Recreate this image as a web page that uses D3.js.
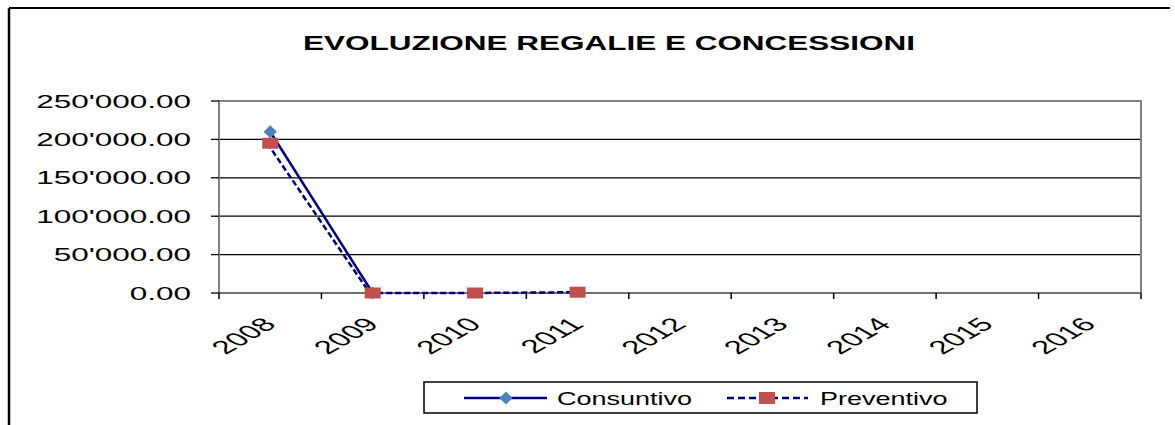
<!DOCTYPE html>
<html>
<head>
<meta charset="utf-8">
<script src="https://cdn.jsdelivr.net/npm/d3@7"></script>
<style>
  body { margin: 0; background: #fff; }
  text { font-family: Arial, "Liberation Sans", sans-serif; fill: #000; }
</style>
</head>
<body>
<div id="chart"></div>
<script>

// chart data
const years = ['2008', '2009', '2010', '2011', '2012', '2013', '2014', '2015', '2016'];
const consuntivo = [210000, 0];
const preventivo = [195000, 0, 0, 1000];
const yTicks = [0, 50000, 100000, 150000, 200000, 250000];
const title = 'EVOLUZIONE REGALIE E CONCESSIONI';

const W = 1175, H = 425;
const plot = {left: 219, right: 1141, top: 101, bottom: 293};

const svg = d3.select('#chart')
    .append('svg')
    .attr('width', W)
    .attr('height', H);

// outer frame (only top and left edge are visible)
svg.append('line')
    .attr('x1', 9).attr('y1', 8).attr('x2', 1170).attr('y2', 8)
    .style('stroke', '#000').style('stroke-width', 2);
svg.append('line')
    .attr('x1', 9).attr('y1', 8).attr('x2', 9).attr('y2', H)
    .style('stroke', '#000').style('stroke-width', 2.5);

// title
svg.append('text')
    .attr('x', 609)
    .attr('y', 50)
    .attr('text-anchor', 'middle')
    .attr('textLength', 612)
    .attr('lengthAdjust', 'spacingAndGlyphs')
    .style('font-size', '21px')
    .style('font-weight', 'bold')
    .text(title);

// scales
const x = d3.scaleBand()
    .domain(years)
    .range([plot.left, plot.right]);
const y = d3.scaleLinear()
    .domain([0, 250000])
    .range([plot.bottom, plot.top]);
const cx = d => x(d) + x.bandwidth() / 2;

// gridlines
svg.append('g')
    .selectAll('line')
    .data(yTicks.filter(v => v > 0 && v < 250000))
    .enter()
    .append('line')
    .attr('x1', plot.left).attr('x2', plot.right)
    .attr('y1', d => y(d)).attr('y2', d => y(d))
    .style('stroke', '#000')
    .style('stroke-width', 1.3);

// plot border (grey)
svg.append('path')
    .attr('d', `M${plot.left},${plot.bottom}V${plot.top}H${plot.right}V${plot.bottom}`)
    .style('fill', 'none')
    .style('stroke', '#808080')
    .style('stroke-width', 2);

// x axis line
svg.append('line')
    .attr('x1', plot.left).attr('x2', plot.right)
    .attr('y1', plot.bottom).attr('y2', plot.bottom)
    .style('stroke', '#404040')
    .style('stroke-width', 1.5);

// y ticks + labels
const fmt = v => d3.format(',.2f')(v).replace(/,/g, "'");
const yAxis = svg.append('g');
yAxis.selectAll('line')
    .data(yTicks)
    .enter()
    .append('line')
    .attr('x1', plot.left - 8).attr('x2', plot.left)
    .attr('y1', d => y(d)).attr('y2', d => y(d))
    .style('stroke', '#000')
    .style('stroke-width', 1.3);
yAxis.selectAll('text')
    .data(yTicks)
    .enter()
    .append('text')
    .attr('transform', d => `translate(191, ${y(d) + 6.5}) scale(1.75, 1)`)
    .attr('text-anchor', 'end')
    .style('font-size', '18px')
    .text(fmt);

// x ticks at category edges
const edges = years.map(d => x(d)).concat([plot.right]);
svg.append('g')
    .selectAll('line')
    .data(edges)
    .enter()
    .append('line')
    .attr('x1', d => d).attr('x2', d => d)
    .attr('y1', plot.bottom).attr('y2', plot.bottom + 6)
    .style('stroke', '#000')
    .style('stroke-width', 1.5);

// x labels, rotated
svg.append('g')
    .selectAll('text')
    .data(years)
    .enter()
    .append('text')
    .attr('transform', d => `translate(${cx(d) - 9}, 316) scale(1.75, 1) rotate(-45)`)
    .attr('text-anchor', 'end')
    .attr('dy', '0.7em')
    .style('font-size', '19px')
    .text(d => d);

// lines
const line = d3.line()
    .x((d, i) => cx(years[i]))
    .y(d => y(d));

svg.append('path')
    .datum(preventivo)
    .attr('d', line)
    .style('fill', 'none')
    .style('stroke', '#000080')
    .style('stroke-width', 2.5)
    .style('stroke-dasharray', '6, 3')
    .attr('transform', 'translate(-3, 0)');

svg.append('path')
    .datum(consuntivo)
    .attr('d', line)
    .style('fill', 'none')
    .style('stroke', '#000080')
    .style('stroke-width', 2.5);

// markers
const diamond = d3.symbol().type(d3.symbolDiamond).size(60);
svg.append('g')
    .selectAll('path')
    .data(consuntivo)
    .enter()
    .append('path')
    .attr('d', diamond)
    .attr('transform', (d, i) => `translate(${cx(years[i])}, ${y(d)}) scale(1.6, 0.9)`)
    .style('fill', '#4F81BD');

svg.append('g')
    .selectAll('rect')
    .data(preventivo)
    .enter()
    .append('rect')
    .attr('x', (d, i) => cx(years[i]) - 8)
    .attr('y', d => y(d) - 5.5)
    .attr('width', 16)
    .attr('height', 11)
    .style('fill', '#C0504D');

// legend
const lg = svg.append('g');
lg.append('rect')
    .attr('x', 424).attr('y', 382)
    .attr('width', 553).attr('height', 31)
    .style('fill', '#fff')
    .style('stroke', '#000')
    .style('stroke-width', 1.5);

lg.append('line')
    .attr('x1', 464).attr('x2', 547).attr('y1', 398).attr('y2', 398)
    .style('stroke', '#000080').style('stroke-width', 2.5);
lg.append('path')
    .attr('d', diamond)
    .attr('transform', 'translate(506, 398) scale(1.6, 0.9)')
    .style('fill', '#4F81BD');
lg.append('text')
    .attr('transform', `translate(557, 404.5) scale(1.5, 1)`)
    .style('font-size', '18px')
    .text('Consuntivo');

lg.append('line')
    .attr('x1', 727).attr('x2', 808).attr('y1', 398).attr('y2', 398)
    .style('stroke', '#000080').style('stroke-width', 2.5)
    .style('stroke-dasharray', '7, 4');
lg.append('rect')
    .attr('x', 759).attr('y', 392)
    .attr('width', 16).attr('height', 12)
    .style('fill', '#C0504D');
lg.append('text')
    .attr('transform', `translate(820, 404.5) scale(1.5, 1)`)
    .style('font-size', '18px')
    .text('Preventivo');

</script>
</body>
</html>
